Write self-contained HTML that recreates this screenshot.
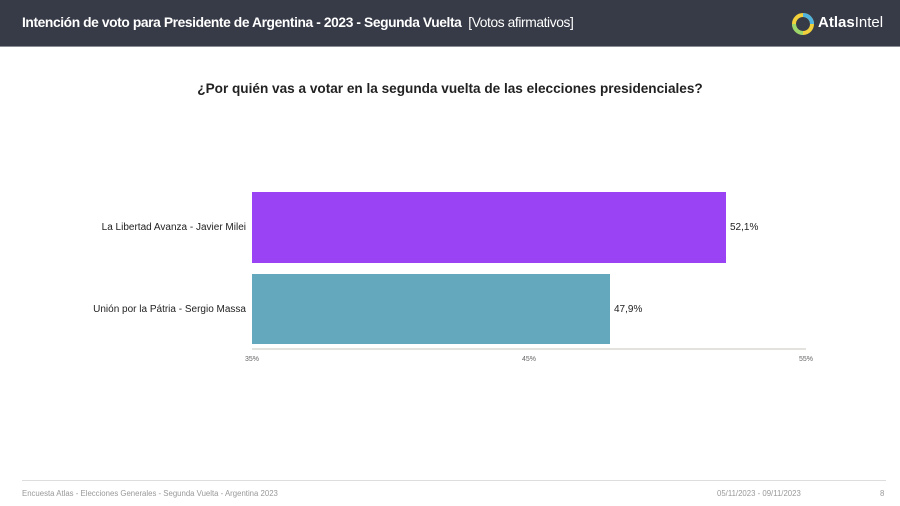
<!DOCTYPE html>
<html><head><meta charset="utf-8"><style>
*{margin:0;padding:0;box-sizing:border-box}
body{width:900px;height:506px;background:#fff;position:relative;overflow:hidden;font-family:"Liberation Sans",sans-serif}
.hdr{position:absolute;left:0;top:0;width:900px;height:47px;background:#373b47;border-bottom:1px solid #8a8d94}
.t{position:absolute;left:22px;top:15px;color:#fff;font-size:13.8px;font-weight:bold;letter-spacing:-0.4px;white-space:nowrap}
.t span{font-weight:normal}
.logo{position:absolute;left:792px;top:13px}
.brand{position:absolute;left:818px;top:14px;color:#fff;font-size:15px;font-weight:bold}
.brand span{font-weight:normal}
.q{position:absolute;left:0;width:900px;top:81px;text-align:center;font-size:13.6px;font-weight:bold;color:#222}
.bar{position:absolute;left:252px}
.lab{position:absolute;font-size:10px;color:#222;white-space:nowrap}
.tick{position:absolute;top:356px;font-size:7px;color:#666}
.foot{position:absolute;top:489px;font-size:7.8px;color:#999;white-space:nowrap}
</style></head><body>
<div class="hdr">
<div class="t">Intención de voto para Presidente de Argentina - 2023 - Segunda Vuelta <span>&nbsp;[Votos afirmativos]</span></div>
<svg class="logo" width="22" height="22" viewBox="0 0 22 22"><circle cx="11" cy="11" r="9" fill="none" stroke="#f2d03b" stroke-width="4"/><path d="M11 2 A9 9 0 0 1 20 11" fill="none" stroke="#4fb3e0" stroke-width="4"/><path d="M11 20 A9 9 0 0 1 2 11" fill="none" stroke="#9bd66b" stroke-width="4"/><rect x="7" y="7" width="8" height="8" fill="#373b47" transform="rotate(45 11 11)"/></svg>
<div class="brand">Atlas<span>Intel</span></div>
</div>
<div class="q">¿Por quién vas a votar en la segunda vuelta de las elecciones presidenciales?</div>
<div class="bar" style="top:192px;width:474px;height:71px;background:#9a43f5"></div>
<div class="bar" style="top:274px;width:358px;height:70px;background:#64a8bd"></div>
<div class="lab" style="right:654px;top:222px">La Libertad Avanza - Javier Milei</div>
<div class="lab" style="right:654px;top:304px">Unión por la Pátria - Sergio Massa</div>
<div class="lab" style="left:730px;top:222px">52,1%</div>
<div class="lab" style="left:614px;top:304px">47,9%</div>
<div style="position:absolute;left:252px;top:348px;width:554px;height:2px;background:#e4e2de"></div>
<div class="tick" style="left:245px">35%</div>
<div class="tick" style="left:522px">45%</div>
<div class="tick" style="left:799px">55%</div>
<div style="position:absolute;left:22px;top:480px;width:864px;height:1px;background:#ddd"></div>
<div class="foot" style="left:22px">Encuesta Atlas - Elecciones Generales - Segunda Vuelta - Argentina 2023</div>
<div class="foot" style="left:717px">05/11/2023 - 09/11/2023</div>
<div class="foot" style="left:880px">8</div>
</body></html>
